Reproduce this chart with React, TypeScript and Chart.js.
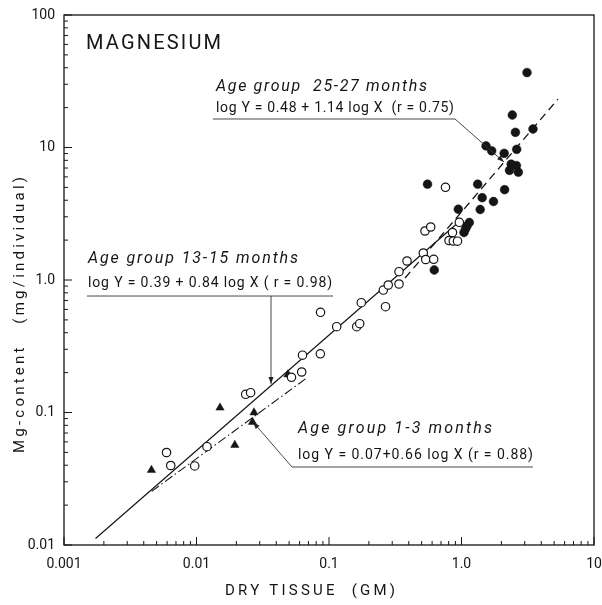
import React, { useEffect, useRef } from 'react';
import { Chart, registerables } from 'chart.js';

Chart.register(...registerables);

// Axis ticks
const xTickValues = [0.001, 0.01, 0.1, 1, 10];
const xTickLabels = ['0.001', '0.01', '0.1', '1.0', '10'];
const yTickValues = [0.01, 0.1, 1, 10, 100];
const yTickLabels = ['0.01', '0.1', '1.0', '10', '100'];

// Age group 13-15 months (open circles)
const openX = [0.00594, 0.00639, 0.00969, 0.0120, 0.0235, 0.0256, 0.0521, 0.0622, 0.0631, 0.0860, 0.0863, 0.1143,
  0.1618, 0.1705, 0.1753, 0.267, 0.257, 0.280, 0.3376, 0.3376, 0.388, 0.515, 0.537, 0.617, 0.530, 0.5855,
  0.855, 0.805, 0.867, 0.933, 0.963, 0.757];
const openY = [0.0499, 0.0398, 0.0395, 0.0552, 0.1372, 0.1411, 0.1843, 0.2021, 0.2707, 0.2773, 0.5705, 0.444,
  0.444, 0.468, 0.674, 0.629, 0.840, 0.917, 0.933, 1.155, 1.391, 1.599, 1.428, 1.433, 2.343, 2.512,
  2.283, 1.987, 1.970, 1.963, 2.726, 5.008];

// Age group 25-27 months (filled circles)
const filledX = [0.623, 0.946, 1.384, 1.044, 1.072, 1.100, 1.145, 0.554, 1.325, 1.433, 1.744, 2.115, 1.531,
  1.690, 2.10, 2.61, 2.372, 2.596, 2.303, 2.684, 2.418, 2.552, 3.463, 3.121];
const filledY = [1.190, 3.42, 3.405, 2.283, 2.426, 2.556, 2.716, 5.284, 5.284, 4.18, 3.913, 4.803, 10.28,
  9.44, 9.04, 9.69, 7.49, 7.31, 6.72, 6.51, 17.59, 13.02, 13.79, 36.8];

// Age group 1-3 months (filled triangles)
const triX = [0.00457, 0.01505, 0.01946, 0.02716, 0.049, 0.02646];
const triY = [0.0368, 0.1087, 0.0568, 0.1, 0.1936, 0.0848];

// Regression lines (end points)
const fit1315X = [0.00173, 0.974];
const fit1315Y = [0.0112, 2.79];
const fit2527X = [0.375, 5.35];
const fit2527Y = [1.035, 23.2];
const fit13X = [0.00459, 0.0694];
const fit13Y = [0.0254, 0.185];

// Texts
const chartTitle = 'MAGNESIUM';
const xTitle = 'DRY TISSUE  (GM)';
const yTitle = 'Mg-content   (mg/individual)';
const ann2527 = ['Age group  25-27 months', 'log Y = 0.48 + 1.14 log X  (r = 0.75)'];
const ann1315 = ['Age group 13-15 months', 'log Y = 0.39 + 0.84 log X ( r = 0.98)'];
const ann13 = ['Age group 1-3 months', 'log Y = 0.07+0.66 log X (r = 0.88)'];

const FONT = 'Roboto, "DejaVu Sans", sans-serif';
const INK = '#151515';

const pts = (xs: number[], ys: number[]) => xs.map((x, i) => ({ x, y: ys[i] }));

function fitText(ctx: CanvasRenderingContext2D, text: string, x: number, y: number, target: number) {
  (ctx as any).letterSpacing = '0px';
  const w = ctx.measureText(text).width;
  if (w < target && text.length > 1) {
    (ctx as any).letterSpacing = (target - w) / (text.length - 1) + 'px';
    ctx.fillText(text, x, y);
  } else {
    ctx.fillText(text, x, y, target);
  }
  (ctx as any).letterSpacing = '0px';
}

function arrow(ctx: CanvasRenderingContext2D, x0: number, y0: number, x1: number, y1: number) {
  ctx.beginPath();
  ctx.moveTo(x0, y0);
  ctx.lineTo(x1, y1);
  ctx.stroke();
  const a = Math.atan2(y1 - y0, x1 - x0);
  const L = 7, H = 2.5;
  ctx.beginPath();
  ctx.moveTo(x1, y1);
  ctx.lineTo(x1 - L * Math.cos(a) + H * Math.sin(a), y1 - L * Math.sin(a) - H * Math.cos(a));
  ctx.lineTo(x1 - L * Math.cos(a) - H * Math.sin(a), y1 - L * Math.sin(a) + H * Math.cos(a));
  ctx.closePath();
  ctx.fill();
}

const decorPlugin = {
  id: 'decor',
  afterDraw(chart: any) {
    const ctx: CanvasRenderingContext2D = chart.ctx;
    const a = chart.chartArea;
    const xs = chart.scales.x;
    const ys = chart.scales.y;
    const X = (v: number) => xs.getPixelForValue(v);
    const Y = (v: number) => ys.getPixelForValue(v);
    ctx.save();
    ctx.strokeStyle = INK;
    ctx.fillStyle = INK;
    // frame
    ctx.lineWidth = 1.3;
    ctx.strokeRect(a.left, a.top, a.right - a.left, a.bottom - a.top);
    // inside ticks
    ctx.lineWidth = 1;
    ctx.beginPath();
    for (let e = -3; e <= 1; e++) {
      for (let m = 1; m < 10; m++) {
        const v = m * Math.pow(10, e);
        const px = X(v);
        const len = m === 1 ? 8 : 4;
        ctx.moveTo(px, a.bottom);
        ctx.lineTo(px, a.bottom - len);
        if (e === 1) break;
      }
    }
    for (let e = -2; e <= 2; e++) {
      for (let m = 1; m < 10; m++) {
        const v = m * Math.pow(10, e);
        const py = Y(v);
        const len = m === 1 ? 8 : 4;
        ctx.moveTo(a.left, py);
        ctx.lineTo(a.left + len, py);
        if (e === 2) break;
      }
    }
    ctx.stroke();

    // title
    ctx.textAlign = 'left';
    ctx.textBaseline = 'alphabetic';
    ctx.font = `20px ${FONT}`;
    fitText(ctx, chartTitle, X(0.001466), Y(55.4), 135);

    // axis titles
    ctx.font = `15px ${FONT}`;
    ctx.textBaseline = 'middle';
    fitText(ctx, xTitle, 310 - 85, 591, 170);
    ctx.save();
    ctx.translate(20, 315);
    ctx.rotate(-Math.PI / 2);
    fitText(ctx, yTitle, -138, 0, 276);
    ctx.restore();

    ctx.textBaseline = 'alphabetic';
    // annotation 25-27 months
    ctx.font = `italic 16px ${FONT}`;
    fitText(ctx, ann2527[0], X(0.01403), Y(26.7), 211);
    ctx.font = `14px ${FONT}`;
    fitText(ctx, ann2527[1], X(0.01403), Y(18.53), 238);
    // annotation 13-15 months
    ctx.font = `italic 16px ${FONT}`;
    fitText(ctx, ann1315[0], X(0.001518), Y(1.344), 210);
    ctx.font = `14px ${FONT}`;
    fitText(ctx, ann1315[1], X(0.001518), Y(0.8856), 244);
    // annotation 1-3 months
    ctx.font = `italic 16px ${FONT}`;
    fitText(ctx, ann13[0], X(0.05834), Y(0.07003), 194);
    ctx.font = `14px ${FONT}`;
    fitText(ctx, ann13[1], X(0.05834), Y(0.04457), 235);

    // underlines and leaders
    ctx.strokeStyle = '#333';
    ctx.fillStyle = '#222';
    ctx.lineWidth = 0.9;
    ctx.beginPath();
    ctx.moveTo(X(0.01332), Y(16.41));
    ctx.lineTo(X(0.893), Y(16.41));
    ctx.moveTo(X(0.00149), Y(0.757));
    ctx.lineTo(X(0.1072), Y(0.757));
    ctx.moveTo(X(0.05257), Y(0.03879));
    ctx.lineTo(X(3.463), Y(0.03879));
    ctx.stroke();
    arrow(ctx, X(0.893), Y(16.41), X(2.093), Y(7.77));
    arrow(ctx, X(0.03651), Y(0.757), X(0.03651), Y(0.1641));
    arrow(ctx, X(0.05257), Y(0.03879), X(0.0267), Y(0.08479));
    ctx.restore();
  },
};

export default function App() {
  const ref = useRef<HTMLCanvasElement>(null);
  useEffect(() => {
    const fixScale = (s: any, w?: number, h?: number) => {
      if (w !== undefined) s.width = w;
      if (h !== undefined) s.height = h;
      s.paddingLeft = 0;
      s.paddingRight = 0;
      s.paddingTop = 0;
      s.paddingBottom = 0;
    };
    const chart = new Chart(ref.current!, {
      type: 'scatter',
      data: {
        datasets: [
          {
            label: 'Age group 13-15 months',
            data: pts(openX, openY),
            pointStyle: 'circle',
            pointRadius: 4.2,
            pointBackgroundColor: '#fff',
            pointBorderColor: INK,
            pointBorderWidth: 1.2,
            showLine: false,
            order: 0,
          },
          {
            label: 'Age group 25-27 months',
            data: pts(filledX, filledY),
            pointStyle: 'circle',
            pointRadius: 4.4,
            pointBackgroundColor: INK,
            pointBorderColor: INK,
            pointBorderWidth: 0.5,
            showLine: false,
            order: 0,
          },
          {
            label: 'Age group 1-3 months',
            data: pts(triX, triY),
            pointStyle: 'triangle',
            pointRadius: 4.8,
            pointBackgroundColor: INK,
            pointBorderColor: INK,
            pointBorderWidth: 0.5,
            showLine: false,
            order: 0,
          },
          {
            label: 'fit 13-15',
            data: pts(fit1315X, fit1315Y),
            showLine: true,
            borderColor: INK,
            borderWidth: 1.2,
            pointRadius: 0,
            order: 1,
          },
          {
            label: 'fit 25-27',
            data: pts(fit2527X, fit2527Y),
            showLine: true,
            borderColor: INK,
            borderWidth: 1.3,
            borderDash: [8, 5],
            pointRadius: 0,
            order: 1,
          },
          {
            label: 'fit 1-3',
            data: pts(fit13X, fit13Y),
            showLine: true,
            borderColor: INK,
            borderWidth: 1.1,
            borderDash: [9, 3, 1.5, 3],
            pointRadius: 0,
            order: 1,
          },
        ],
      },
      options: {
        animation: false,
        responsive: false,
        devicePixelRatio: 1,
        events: [],
        layout: { padding: { top: 15, right: 8, left: 0, bottom: 0 } },
        plugins: { legend: { display: false }, tooltip: { enabled: false }, title: { display: false } },
        scales: {
          x: {
            type: 'logarithmic',
            position: 'bottom',
            min: 0.001,
            max: 10,
            grid: { display: false, drawTicks: false },
            border: { display: false },
            afterBuildTicks: (s: any) => {
              s.ticks = xTickValues.map((v) => ({ value: v, major: true }));
            },
            afterFit: (s: any) => fixScale(s, undefined, 60),
            ticks: {
              autoSkip: false,
              maxRotation: 0,
              padding: 11,
              color: INK,
              font: { family: FONT, size: 14 },
              callback: (_v: any, i: number) => xTickLabels[i],
            },
          },
          y: {
            type: 'logarithmic',
            position: 'left',
            min: 0.01,
            max: 100,
            grid: { display: false, drawTicks: false },
            border: { display: false },
            afterBuildTicks: (s: any) => {
              s.ticks = yTickValues.map((v) => ({ value: v, major: true }));
            },
            afterFit: (s: any) => fixScale(s, 64, undefined),
            ticks: {
              autoSkip: false,
              padding: 9,
              color: INK,
              font: { family: FONT, size: 14 },
              callback: (_v: any, i: number) => yTickLabels[i],
            },
          },
        },
      } as any,
      plugins: [decorPlugin],
    });
    return () => chart.destroy();
  }, []);
  return (
    <div style={{ position: 'absolute', left: 0, top: 0, width: 602, height: 605, background: '#fff' }}>
      <canvas ref={ref} width={602} height={605} style={{ display: 'block' }} />
    </div>
  );
}
